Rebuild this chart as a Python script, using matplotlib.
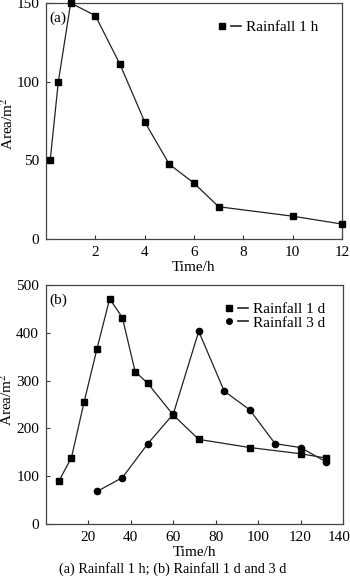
import matplotlib
matplotlib.use("Agg")
import matplotlib.pyplot as plt
import matplotlib.transforms as mtransforms
from matplotlib.lines import Line2D
from matplotlib.legend_handler import HandlerTuple

plt.rcParams['font.family'] = ['Liberation Serif', 'DejaVu Serif']
plt.rcParams['mathtext.fontset'] = 'stix'

# Panel (a): rainfall 1 h
t_1h = [0.17, 0.5, 1, 2, 3, 4, 5, 6, 7, 10, 12]
area_1h = [50, 100, 150, 142, 111, 74.5, 47.5, 35.5, 20.5, 14.5, 9.5]

# Panel (b): rainfall 1 d and 3 d
t_1d = [6, 12, 18, 24, 30, 36, 42, 48, 60, 72, 96, 120, 132]
area_1d = [89, 139, 256, 366, 471, 432, 319, 294, 228, 177, 160, 147, 138]
t_3d = [24, 36, 48, 60, 72, 84, 96, 108, 120, 132]
area_3d = [68, 97, 168, 230, 403, 278, 239, 168, 160, 130]

xticks_a = [2, 4, 6, 8, 10, 12]
yticks_a = [0, 50, 100, 150]
xticks_b = [20, 40, 60, 80, 100, 120, 140]
yticks_b = [0, 100, 200, 300, 400, 500]

W, H = 350, 581
fig = plt.figure(figsize=(W / 100, H / 100), dpi=100)

def box(l, t, r, b):
    return [l / W, 1 - b / H, (r - l) / W, (b - t) / H]

ax1 = fig.add_axes(box(46, 3, 342, 239))
ax2 = fig.add_axes(box(46, 285, 343, 524))

lc = '#222222'
fs = 11

def style(ax):
    for s in ax.spines.values():
        s.set_color('#444444')
        s.set_linewidth(0.9)
    ax.tick_params(direction='in', length=3, width=0.8, color='#333333',
                   labelsize=fs, pad=5)

hmap = {tuple: HandlerTuple(ndivide=None, pad=0.25)}

# (a)
ax1.plot(t_1h, area_1h, color=lc, lw=0.9, marker='s', ms=4.5, mfc='black', mec='black',
         clip_on=False, zorder=3)
ax1.set_xlim(0, 12)
ax1.set_ylim(0, 150)
ax1.set_xticks(xticks_a)
ax1.set_yticks(yticks_a)
ax1.set_xlabel('Time/h', fontsize=fs)
ax1.set_ylabel('Area/m$^2$', fontsize=fs)
ax1.xaxis.set_label_coords(0.5, -0.092)
ax1.yaxis.set_label_coords(-0.103, 0.49)
ax1.text(0.01, 0.965, '(a)', transform=ax1.transAxes, fontsize=fs, va='top', ha='left')
style(ax1)

h1 = (Line2D([], [], marker='s', ms=4, color='black', ls='none'),
      Line2D([], [], color=lc, lw=1.2))
ax1.legend([h1], ['Rainfall 1 h'], handler_map=hmap,
           loc='upper right', bbox_to_anchor=(0.965, 0.985), frameon=False, fontsize=fs,
           handlelength=1.6, handletextpad=0.3, borderaxespad=0.5)

# (b)
ax2.plot(t_1d, area_1d, color=lc, lw=0.9, marker='s', ms=4.5, mfc='black', mec='black',
         zorder=3)
ax2.plot(t_3d, area_3d, color=lc, lw=0.9, marker='o', ms=4.5, mfc='black', mec='black',
         zorder=3)
ax2.set_xlim(0, 140)
ax2.set_ylim(0, 500)
ax2.set_xticks(xticks_b)
ax2.set_yticks(yticks_b)
ax2.set_xlabel('Time/h', fontsize=fs)
ax2.set_ylabel('Area/m$^2$', fontsize=fs)
ax2.xaxis.set_label_coords(0.5, -0.092)
ax2.yaxis.set_label_coords(-0.103, 0.52)
ax2.text(0.01, 0.965, '(b)', transform=ax2.transAxes, fontsize=fs, va='top', ha='left')
style(ax2)
# nudge last tick label inside the figure, as in the reference
lbls = ax2.get_xticklabels()
off = mtransforms.ScaledTranslation(-4 / 100, 0, fig.dpi_scale_trans)
lbls[-1].set_transform(lbls[-1].get_transform() + off)

h2 = (Line2D([], [], marker='s', ms=4, color='black', ls='none'),
      Line2D([], [], color=lc, lw=1.2))
h3 = (Line2D([], [], marker='o', ms=4, color='black', ls='none'),
      Line2D([], [], color=lc, lw=1.2))
ax2.legend([h2, h3], ['Rainfall 1 d', 'Rainfall 3 d'], handler_map=hmap,
           loc='upper right', bbox_to_anchor=(0.985, 0.985), frameon=False, fontsize=fs,
           handlelength=1.6, handletextpad=0.3, borderaxespad=0.5, labelspacing=0.0)

fig.text(173 / W, 1 - 569 / H, '(a) Rainfall 1 h; (b) Rainfall 1 d and 3 d',
         ha='center', va='center', fontsize=10.3)

fig.savefig('out.png', dpi=100)
